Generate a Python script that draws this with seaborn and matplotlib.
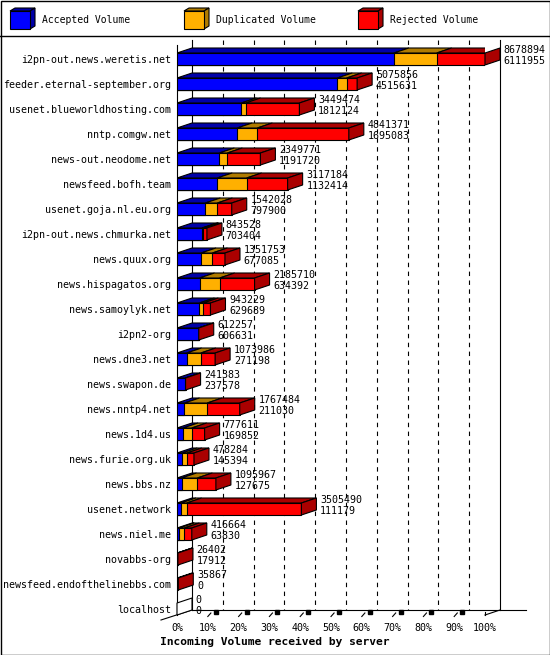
#  Incoming volume per server (innreport style 3D bar chart)
import pandas as pd
import matplotlib
matplotlib.use("Agg")
import matplotlib.pyplot as plt
from matplotlib.patches import Polygon, Rectangle
import seaborn as sns

# Data
servers = [
    "i2pn-out.news.weretis.net", "feeder.eternal-september.org",
    "usenet.blueworldhosting.com", "nntp.comgw.net", "news-out.neodome.net",
    "newsfeed.bofh.team", "usenet.goja.nl.eu.org", "i2pn-out.news.chmurka.net",
    "news.quux.org", "news.hispagatos.org", "news.samoylyk.net", "i2pn2-org",
    "news.dne3.net", "news.swapon.de", "news.nntp4.net", "news.1d4.us",
    "news.furie.org.uk", "news.bbs.nz", "usenet.network", "news.niel.me",
    "novabbs-org", "newsfeed.endofthelinebbs.com", "localhost",
]
total = [8678894, 5075856, 3449474, 4841371, 2349771, 3117184, 1542028, 843528,
         1351753, 2185710, 943229, 612257, 1073986, 241383, 1767484, 777611,
         478284, 1095967, 3505490, 416664, 26402, 35867, 0]
accepted = [6111955, 4515631, 1812124, 1695083, 1191720, 1132414, 797900, 703404,
            677085, 634392, 629689, 606631, 271198, 237578, 211030, 169852,
            145394, 127675, 111179, 63830, 17912, 0, 0]
duplicated = [1206000, 265000, 120000, 568000, 226000, 831000, 339000, 40000,
              320000, 568000, 110000, 0, 400000, 0, 640000, 245000,
              130000, 445000, 160000, 140000, 0, 0, 0]
rejected = [1360939, 295225, 1517350, 2578288, 932051, 1153770, 405128, 100124,
            354668, 983318, 203540, 5626, 402788, 3805, 916454, 362759,
            202890, 523292, 3234311, 212834, 8490, 35867, 0]

front_colors = ["#0000ff", "#ffb000", "#ff0000"]
dark_colors = ["#0000a8", "#b07c00", "#aa0000"]
legend_labels = ["Accepted Volume", "Duplicated Volume", "Rejected Volume"]

df = pd.DataFrame({"server": servers, "acc": accepted, "dup": duplicated, "rej": rejected})
vmax = max(total)
df["p_acc"] = df["acc"] / vmax * 100
df["p_dup"] = (df["acc"] + df["dup"]) / vmax * 100
df["p_tot"] = (df["acc"] + df["dup"] + df["rej"]) / vmax * 100

plt.rcParams["font.family"] = "DejaVu Sans Mono"
fig = plt.figure(figsize=(5.5, 6.55), dpi=100)

# background frame + legend
bg = fig.add_axes([0, 0, 1, 1], zorder=0)
bg.set_xlim(0, 550)
bg.set_ylim(655, 0)
bg.axis("off")
bg.add_patch(Rectangle((0.5, 0.5), 549, 654, fill=False, lw=1, ec="black"))
bg.plot([0, 550], [35.5, 35.5], color="black", lw=1)
for x0, fc, dc, lab in zip([10, 184, 358], front_colors, dark_colors, legend_labels):
    bg.add_patch(Polygon([(x0, 11), (x0 + 5, 8), (x0 + 25, 8), (x0 + 20, 11)],
                         fc=dc, ec="black", lw=0.8))
    bg.add_patch(Polygon([(x0 + 20, 11), (x0 + 25, 8), (x0 + 25, 26), (x0 + 20, 29)],
                         fc=dc, ec="black", lw=0.8))
    bg.add_patch(Rectangle((x0, 11), 20, 18, fc=fc, ec="black", lw=0.8))
    bg.text(x0 + 32, 20, lab, fontsize=7, va="center", ha="left")

ax = fig.add_axes([177 / 550, 1 - 615 / 655, 308 / 550, 575 / 655], zorder=1)
ax.patch.set_alpha(0)

# front faces: stacked by overdrawing cumulative bars
for col, fc in zip(["p_tot", "p_dup", "p_acc"], front_colors[::-1]):
    sns.barplot(data=df, x=col, y="server", orient="h", color=fc, saturation=1,
                edgecolor="black", linewidth=0.8, width=0.48, errorbar=None,
                ax=ax, zorder=3)

dx = 15 / 308 * 100   # depth offset in percent units
dy = 5 / 25           # depth offset in row units
h = 0.24
y_top, y_bot = -0.76, 22.24

# top faces and side face
for i, row in df.iterrows():
    edges = [0, row["p_acc"], row["p_dup"], row["p_tot"]]
    for k in range(3):
        x0, x1 = edges[k], edges[k + 1]
        if x1 - x0 <= 0:
            continue
        ax.add_patch(Polygon([(x0, i - h), (x0 + dx, i - h - dy), (x1 + dx, i - h - dy), (x1, i - h)],
                             fc=dark_colors[k], ec="black", lw=0.8, zorder=3))
    xe = row["p_tot"]
    side = dark_colors[2] if total[i] > 0 else "white"
    ax.add_patch(Polygon([(xe, i - h), (xe + dx, i - h - dy), (xe + dx, i + h - dy), (xe, i + h)],
                         fc=side, ec="black", lw=0.8, zorder=3, clip_on=False))
    ax.text(xe + dx + 1.2, i - 0.37, str(total[i]), fontsize=7.2, va="center", ha="left")
    ax.text(xe + dx + 1.2, i + 0.07, str(accepted[i]), fontsize=7.2, va="center", ha="left")

# walls, grid and floor
for k in range(1, 10):
    ax.plot([k * 10 + dx] * 2, [y_top, y_bot - dy], color="black", lw=0.8,
            ls=(0, (4, 4)), zorder=1, clip_on=False)
ax.plot([0, 0], [y_top + dy, y_bot], color="black", lw=0.8, zorder=2, clip_on=False)
ax.plot([dx, dx], [y_top, y_bot - dy], color="black", lw=0.8, zorder=2, clip_on=False)
ax.plot([100 + dx] * 2, [y_top, y_bot - dy], color="black", lw=0.8, zorder=2, clip_on=False)
ax.plot([dx, 113.2], [y_bot - dy] * 2, color="black", lw=0.8, zorder=2, clip_on=False)
ax.plot([-5.2, dx], [y_bot + dy, y_bot - dy], color="black", lw=0.8, zorder=2, clip_on=False)
ax.plot([100, 100 + dx], [y_bot, y_bot - dy], color="black", lw=0.8, zorder=2, clip_on=False)
for k in range(1, 10):
    xt = k * 10
    ax.plot([xt, xt + 1.0], [y_bot + 0.06, y_bot - 0.08], color="black", lw=0.8, clip_on=False)
    ax.plot([xt + 2.6], [y_bot - 0.12], marker="s", ms=2.2, color="black", clip_on=False)
ax.plot([100, 100], [y_bot, y_bot - 0.12], color="black", lw=0.8, clip_on=False)

ax.set_xlim(0, 100)
ax.set_ylim(y_bot, y_top)
ax.set_xticks(range(0, 101, 10))
ax.set_xticklabels([f"{v}%" for v in range(0, 101, 10)], fontsize=7.2)
ax.tick_params(axis="x", length=0, pad=6)
ax.tick_params(axis="y", length=0, pad=4, labelsize=7.2)
ax.set_xlabel("")
ax.set_ylabel("")
for s in ax.spines.values():
    s.set_visible(False)

fig.text(275 / 550, 1 - 642 / 655, "Incoming Volume received by server",
         fontsize=8.1, fontweight="bold", ha="center", va="center")

fig.savefig("out.png", dpi=100)
